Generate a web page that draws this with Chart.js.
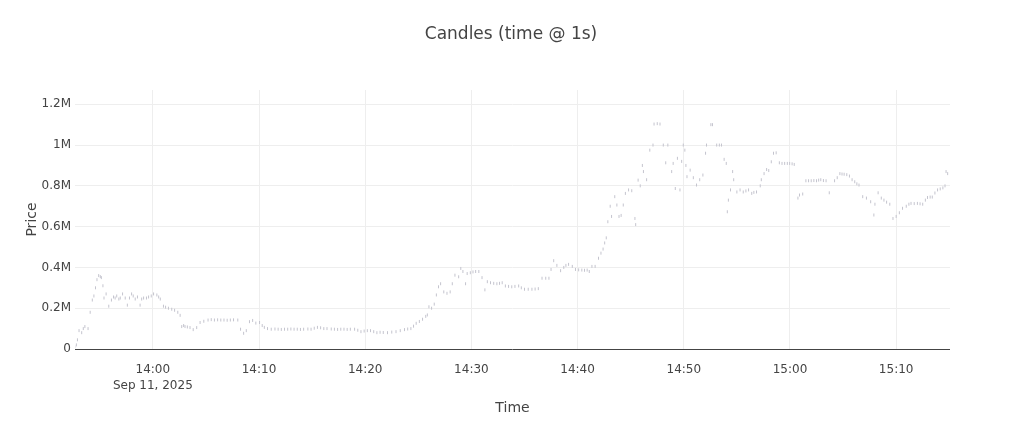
<!DOCTYPE html>
<html>
<head>
<meta charset="utf-8">
<script src="https://cdn.jsdelivr.net/npm/chart.js@4/dist/chart.umd.min.js"></script>
<style>
  html, body { margin: 0; padding: 0; background: #fff; }
  #wrap { width: 1022px; height: 426px; position: relative; }
</style>
</head>
<body>
<div id="wrap"><canvas id="chart-candles" width="1022" height="426"></canvas></div>
<script>
// candle times, minutes relative to 14:00 (Sep 11, 2025)
var candleTimes = [
  -7.35, -7.2, -7.1, -6.95, -6.7, -6.55, -6.4, -6.1, -5.9, -5.7, -5.55, -5.4, -5.26, -5.1, -4.95, -4.85,
  -4.7, -4.6, -4.4, -4.15, -3.9, -3.7, -3.55, -3.4, -3.2, -3.07, -2.85, -2.6, -2.4, -2.2, -2.0, -1.85,
  -1.66, -1.45, -1.2, -1.05, -0.87, -0.6, -0.4, -0.15, 0.07, 0.38, 0.55, 0.7, 1.0, 1.2, 1.47, 1.78,
  2.05, 2.35, 2.57, 2.72, 2.9, 3.03, 3.25, 3.5, 3.8, 4.13, 4.45, 4.8, 5.2, 5.5, 5.8, 6.1,
  6.4, 6.7, 7.0, 7.3, 7.6, 8.0, 8.26, 8.55, 8.8, 9.1, 9.4, 9.7, 10.05, 10.3, 10.5, 10.8,
  11.15, 11.5, 11.8, 12.1, 12.4, 12.7, 13.0, 13.3, 13.6, 13.9, 14.2, 14.6, 14.9, 15.2, 15.5, 15.8,
  16.1, 16.4, 16.8, 17.1, 17.4, 17.7, 18.0, 18.3, 18.6, 19.0, 19.3, 19.6, 19.9, 20.2, 20.5, 20.8,
  21.1, 21.4, 21.7, 22.1, 22.5, 22.9, 23.3, 23.7, 24.0, 24.3, 24.55, 24.8, 25.1, 25.4, 25.7, 25.85,
  26.0, 26.25, 26.5, 26.7, 26.9, 27.1, 27.4, 27.7, 28.0, 28.2, 28.45, 28.8, 29.0, 29.2, 29.45, 29.6,
  29.9, 30.15, 30.4, 30.7, 31.0, 31.27, 31.5, 31.8, 32.1, 32.4, 32.65, 32.9, 33.2, 33.5, 33.8, 34.1,
  34.45, 34.7, 35.0, 35.35, 35.7, 36.0, 36.3, 36.65, 37.0, 37.3, 37.5, 37.75, 38.05, 38.4, 38.7, 38.9,
  39.15, 39.5, 39.8, 40.1, 40.4, 40.65, 40.9, 41.1, 41.35, 41.65, 41.97, 42.2, 42.4, 42.55, 42.7, 42.85,
  43.07, 43.2, 43.5, 43.7, 43.9, 44.1, 44.3, 44.5, 44.8, 45.1, 45.4, 45.47, 45.7, 45.9, 46.1, 46.2,
  46.5, 46.8, 47.1, 47.2, 47.5, 47.76, 48.07, 48.3, 48.5, 48.86, 49.0, 49.2, 49.4, 49.64, 49.8, 49.95,
  50.1, 50.2, 50.3, 50.6, 50.9, 51.2, 51.5, 51.8, 52.05, 52.14, 52.55, 52.7, 53.1, 53.35, 53.55, 53.8,
  54.0, 54.1, 54.2, 54.4, 54.6, 54.7, 55.0, 55.3, 55.6, 55.85, 56.1, 56.4, 56.6, 56.85, 57.2, 57.3,
  57.56, 57.8, 58.0, 58.24, 58.45, 58.7, 59.0, 59.25, 59.5, 59.75, 59.97, 60.2, 60.4, 60.75, 60.9, 61.2,
  61.5, 61.75, 62.0, 62.25, 62.5, 62.7, 62.9, 63.15, 63.4, 63.7, 64.2, 64.45, 64.7, 64.9, 65.1, 65.35,
  65.6, 65.85, 66.1, 66.3, 66.5, 66.85, 67.2, 67.6, 67.9, 68.0, 68.3, 68.6, 68.85, 69.1, 69.4, 69.7,
  70.0, 70.3, 70.6, 70.95, 71.2, 71.4, 71.7, 72.0, 72.25, 72.5, 72.75, 72.95, 73.2, 73.4, 73.65, 73.9,
  74.15, 74.4, 74.6, 74.7, 74.85
];

// candle prices, in millions
var candlePrices = [
  0.01, 0.02, 0.045, 0.09, 0.08, 0.10, 0.11, 0.10, 0.18, 0.24, 0.26, 0.30, 0.34, 0.36, 0.355, 0.35,
  0.31, 0.25, 0.27, 0.21, 0.24, 0.255, 0.25, 0.26, 0.245, 0.25, 0.27, 0.25, 0.215, 0.25, 0.27, 0.26,
  0.245, 0.255, 0.215, 0.245, 0.25, 0.25, 0.255, 0.26, 0.27, 0.265, 0.255, 0.245, 0.21, 0.205, 0.20, 0.195,
  0.19, 0.18, 0.165, 0.11, 0.115, 0.11, 0.108, 0.105, 0.095, 0.105, 0.13, 0.136, 0.142, 0.144, 0.142, 0.143,
  0.142, 0.142, 0.141, 0.142, 0.143, 0.142, 0.097, 0.077, 0.09, 0.134, 0.14, 0.127, 0.13, 0.115, 0.106, 0.10,
  0.097, 0.098, 0.097, 0.096, 0.097, 0.097, 0.098, 0.097, 0.097, 0.096, 0.097, 0.098, 0.097, 0.102, 0.106, 0.104,
  0.100, 0.100, 0.098, 0.097, 0.096, 0.097, 0.097, 0.096, 0.097, 0.097, 0.092, 0.085, 0.088, 0.09, 0.09, 0.085,
  0.08, 0.082, 0.081, 0.08, 0.083, 0.085, 0.09, 0.095, 0.098, 0.10, 0.112, 0.126, 0.135, 0.146, 0.16, 0.167,
  0.207, 0.20, 0.22, 0.265, 0.305, 0.32, 0.28, 0.273, 0.28, 0.32, 0.362, 0.354, 0.395, 0.38, 0.32, 0.37,
  0.374, 0.378, 0.38, 0.38, 0.35, 0.29, 0.33, 0.325, 0.322, 0.32, 0.322, 0.325, 0.309, 0.307, 0.305, 0.307,
  0.309, 0.30, 0.293, 0.293, 0.293, 0.294, 0.296, 0.347, 0.347, 0.347, 0.39, 0.433, 0.41, 0.384, 0.40, 0.41,
  0.415, 0.405, 0.39, 0.388, 0.387, 0.386, 0.387, 0.38, 0.405, 0.405, 0.445, 0.47, 0.49, 0.52, 0.545, 0.624,
  0.70, 0.65, 0.747, 0.706, 0.65, 0.655, 0.706, 0.763, 0.78, 0.776, 0.64, 0.61, 0.828, 0.80, 0.90, 0.87,
  0.83, 0.975, 1.0, 1.103, 1.105, 1.103, 1.0, 0.913, 1.0, 0.87, 0.91, 0.787, 0.935, 0.78, 0.92, 1.0,
  0.975, 0.90, 0.845, 0.877, 0.84, 0.804, 0.83, 0.853, 0.96, 1.0, 1.10, 1.10, 1.0, 1.0, 1.0, 0.93,
  0.91, 0.673, 0.73, 0.78, 0.87, 0.83, 0.77, 0.78, 0.77, 0.775, 0.78, 0.763, 0.768, 0.77, 0.80, 0.83,
  0.86, 0.88, 0.875, 0.918, 0.96, 0.962, 0.913, 0.91, 0.91, 0.91, 0.91, 0.908, 0.905, 0.74, 0.755, 0.76,
  0.825, 0.825, 0.825, 0.826, 0.825, 0.828, 0.83, 0.826, 0.825, 0.766, 0.825, 0.84, 0.86, 0.858, 0.857, 0.855,
  0.848, 0.83, 0.82, 0.81, 0.804, 0.747, 0.74, 0.722, 0.657, 0.71, 0.766, 0.74, 0.73, 0.72, 0.71, 0.64,
  0.65, 0.668, 0.69, 0.70, 0.71, 0.714, 0.713, 0.714, 0.712, 0.71, 0.73, 0.743, 0.745, 0.745, 0.765, 0.78,
  0.785, 0.79, 0.80, 0.87, 0.86
];

var xTickValues = [0, 10, 20, 30, 40, 50, 60, 70];
var xTickLabels = ['14:00', '14:10', '14:20', '14:30', '14:40', '14:50', '15:00', '15:10'];
var dateLabel = 'Sep 11, 2025';
var yTickValues = [0, 0.2, 0.4, 0.6, 0.8, 1.0, 1.2];
var yTickLabels = ['0', '0.2M', '0.4M', '0.6M', '0.8M', '1M', '1.2M'];

var points = [];
for (var i = 0; i < candleTimes.length; i++) {
    points.push({x: candleTimes[i], y: candlePrices[i]});
}

var FONT = '"DejaVu Sans", Verdana, sans-serif';

// title and axis titles are drawn by hand so they do not push the plot area around
var titlesPlugin = {
    id: 'titles',
    afterDraw: function(chart) {
        var c = chart.ctx;
        var area = chart.chartArea;
        c.save();
        c.fillStyle = '#444';
        c.textAlign = 'center';
        c.textBaseline = 'middle';
        c.font = '17px ' + FONT;
        c.fillText('Candles (time @ 1s)', 511, 35);
        c.font = '14px ' + FONT;
        c.fillText('Time', (area.left + area.right) / 2, 408);
        c.translate(32, (area.top + area.bottom) / 2);
        c.rotate(-Math.PI / 2);
        c.fillText('Price', 0, 0);
        c.restore();
    }
};

var ctx = document.getElementById('chart-candles').getContext('2d');
var myChart = new Chart(ctx, {
    type: 'scatter',
    data: {
        datasets: [
            {
                label: 'Candles',
                data: points,
                showLine: false,
                pointStyle: 'line',
                rotation: 90,
                pointRadius: 1.5,
                pointBorderWidth: 1,
                borderColor: '#c4c4ce',
                backgroundColor: '#c4c4ce',
            },
        ],
    },
    options: {
        responsive: false,
        animation: false,
        events: [],
        layout: {
            padding: {left: 0, right: 72, top: 90, bottom: 0}
        },
        plugins: {
            legend: {display: false},
            tooltip: {enabled: false},
        },
        scales: {
            x: {
                type: 'linear',
                min: -7.33,
                max: 75.07,
                afterFit: function(scale) { scale.height = 77; },
                afterBuildTicks: function(scale) {
                    scale.ticks = xTickValues.map(function(v) { return {value: v}; });
                },
                border: {display: false},
                grid: {
                    color: '#eee',
                    drawTicks: false,
                },
                ticks: {
                    padding: 13,
                    color: '#444',
                    maxRotation: 0,
                    autoSkip: false,
                    font: {family: FONT, size: 12, lineHeight: 1.35},
                    callback: function(value) {
                        var idx = xTickValues.indexOf(value);
                        if (idx === 0) { return [xTickLabels[idx], dateLabel]; }
                        return idx >= 0 ? xTickLabels[idx] : '';
                    },
                },
            },
            y: {
                min: 0,
                max: 1.27,
                afterFit: function(scale) { scale.width = 75; },
                afterBuildTicks: function(scale) {
                    scale.ticks = yTickValues.map(function(v) { return {value: v}; });
                },
                border: {display: false},
                grid: {
                    drawTicks: false,
                    color: function(c) { return c.tick && c.tick.value === 0 ? '#444' : '#eee'; },
                },
                ticks: {
                    padding: 4,
                    color: '#444',
                    autoSkip: false,
                    font: {family: FONT, size: 12},
                    callback: function(value) {
                        var idx = yTickValues.indexOf(value);
                        return idx >= 0 ? yTickLabels[idx] : '';
                    },
                },
            },
        },
    },
    plugins: [titlesPlugin],
});
</script>
</body>
</html>
